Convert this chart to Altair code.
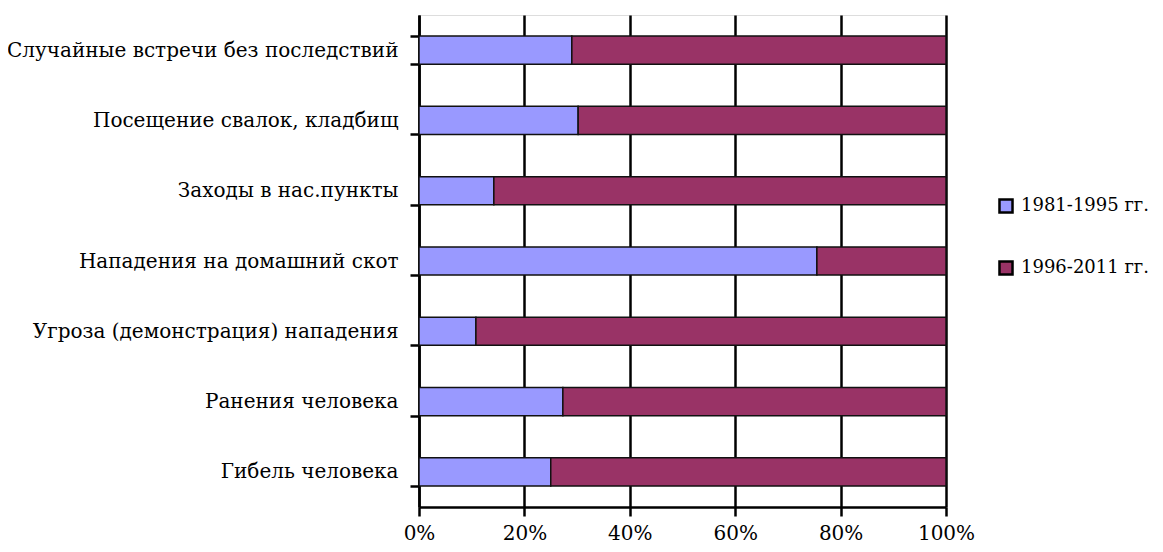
import altair as alt
import pandas as pd

categories = [
    "Случайные встречи без последствий",
    "Посещение свалок, кладбищ",
    "Заходы в нас.пункты",
    "Нападения на домашний скот",
    "Угроза (демонстрация) нападения",
    "Ранения человека",
    "Гибель человека",
]
series = ["1981-1995 гг.", "1996-2011 гг."]
share_1981_1995 = [29.0, 30.2, 14.2, 75.5, 10.8, 27.3, 25.0]
share_1996_2011 = [71.0, 69.8, 85.8, 24.5, 89.2, 72.7, 75.0]

rows = []
for c, a, b in zip(categories, share_1981_1995, share_1996_2011):
    rows.append({"cat": c, "series": series[0], "val": a, "ord": 0})
    rows.append({"cat": c, "series": series[1], "val": b, "ord": 1})
df = pd.DataFrame(rows)

FONT = "DejaVu Serif"
FS = 20

chart = alt.Chart(df).mark_bar(stroke="#111111", strokeWidth=1.5).encode(
    y=alt.Y("cat:N", sort=categories, title=None,
            scale=alt.Scale(paddingInner=0.6, paddingOuter=0.3),
            axis=alt.Axis(tickBand="extent", tickSize=9, tickWidth=2.5, tickColor="black",
                          domainColor="black", domainWidth=2.5, labelPadding=12,
                          labelFont=FONT, labelFontSize=FS, labelColor="black",
                          labelLimit=500, grid=False)),
    x=alt.X("val:Q", stack="normalize", title=None,
            scale=alt.Scale(domain=[0, 1]),
            axis=alt.Axis(format=".0%", values=[0, 0.2, 0.4, 0.6, 0.8, 1.0],
                          tickSize=9, tickWidth=2.5, tickColor="black",
                          domainColor="black", domainWidth=2.5, labelPadding=7,
                          labelFont=FONT, labelFontSize=FS, labelColor="black",
                          labelFlush=False, labelOverlap=False,
                          grid=True, gridColor="black", gridWidth=2.5)),
    color=alt.Color("series:N", sort=series,
                    scale=alt.Scale(domain=series, range=["#9999FF", "#993366"]),
                    legend=alt.Legend(title=None, orient="none", legendX=578, legendY=182,
                                      padding=0,
                                      labelFont=FONT, labelFontSize=18, labelColor="black",
                                      symbolType="square", symbolSize=170,
                                      symbolStrokeColor="black", symbolStrokeWidth=2.5,
                                      rowPadding=38, labelOffset=6, labelLimit=300)),
    order=alt.Order("ord:Q"),
).properties(
    width=527, height=492,
    autosize=alt.AutoSizeParams(type="none"),
    padding={"left": 411, "top": 7, "right": 208, "bottom": 37},
).configure_view(stroke=None).configure(background="white")

chart.save("out.html", embed_options={"renderer": "svg", "actions": False})
